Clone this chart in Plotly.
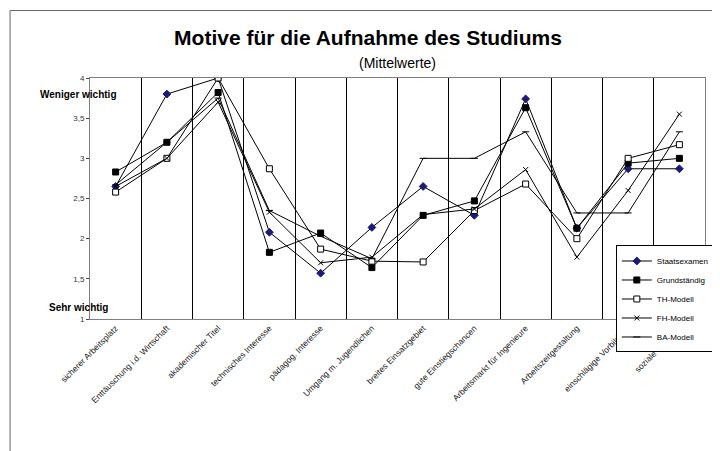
import plotly.graph_objects as go

categories = ["sicherer Arbeitsplatz", "Enttäuschung i.d. Wirtschaft", "akademischer Titel",
              "technisches Interesse", "pädagog. Interesse", "Umgang m. Jugendlichen",
              "breites Einsatzgebiet", "gute Einstiegschancen", "Arbeitsmarkt für Ingenieure",
              "Arbeitszeitgestaltung", "einschlägige Vorbildung", "soziale Vorbilder"]
staatsexamen = [2.65, 3.80, 4.00, 2.08, 1.57, 2.14, 2.65, 2.29, 3.74, 2.13, 2.87, 2.87]
grundstaendig = [2.83, 3.20, 3.82, 1.83, 2.07, 1.64, 2.29, 2.47, 3.63, 2.13, 2.94, 3.00]
th_modell = [2.58, 3.00, 4.00, 2.87, 1.87, 1.72, 1.71, 2.35, 2.68, 2.00, 3.00, 3.17]
fh_modell = [2.65, 3.00, 3.70, 2.33, 1.70, 1.77, 2.30, 2.37, 2.86, 1.77, 2.60, 3.55]
ba_modell = [2.67, 3.20, 3.75, 2.35, 2.03, 1.75, 3.00, 3.00, 3.33, 2.32, 2.32, 3.33]

x = list(range(len(categories)))
series = [
    ("Staatsexamen", staatsexamen, "#1a1a7a", "diamond", "#1a1a7a", 6),
    ("Grundständig", grundstaendig, "black", "square", "black", 6),
    ("TH-Modell", th_modell, "black", "square", "white", 6),
    ("FH-Modell", fh_modell, "black", "x-thin-open", "black", 5),
    ("BA-Modell", ba_modell, "black", "line-ew-open", "black", 5),
]
fig = go.Figure()
for name, ys, col, sym, fill, sz in series:
    fig.add_trace(go.Scatter(x=x, y=ys, name=name, mode="lines+markers",
                             line=dict(color="black", width=1),
                             marker=dict(symbol=sym, size=sz, color=fill,
                                         line=dict(color=col, width=1))))

fig.update_layout(
    width=720, height=451, paper_bgcolor="white", plot_bgcolor="white",
    margin=dict(l=82, r=23, t=70, b=140),
    font=dict(family="Liberation Sans, Arial", size=8, color="black"),
    separators=",.",
    title=dict(text="<b>Motive für die Aufnahme des Studiums</b>",
               x=0.5, xref="container", xanchor="center", y=0.935, yref="container",
               yanchor="middle", font=dict(size=21)),
    showlegend=True,
    legend=dict(x=0.855, y=0.305, xanchor="left", yanchor="top", bordercolor="black",
                borderwidth=1, bgcolor="white", font=dict(size=8), tracegroupgap=0,
                itemwidth=30),
    xaxis=dict(range=[-0.5, 11.5], tickvals=x, ticktext=categories, tickangle=-45,
               showgrid=False, showline=True, linecolor="gray", mirror=True,
               ticks="", zeroline=False, tickfont=dict(size=8.5, color="#222"),
               minor=dict(tickvals=[i + 0.5 for i in x[:-1]], showgrid=True,
                          gridcolor="black", gridwidth=1)),
    yaxis=dict(range=[1, 4], tickvals=[1, 1.5, 2, 2.5, 3, 3.5, 4], showgrid=False,
               showline=True, linecolor="gray", mirror=True, ticks="outside",
               ticklen=3, zeroline=False, tickfont=dict(size=8, color="#333")),
    annotations=[
        dict(text="(Mittelwerte)", x=0.5, xref="paper", y=(311 - 55) / 241 * 1.0, yref="paper",
             showarrow=False, font=dict(size=14), yanchor="middle"),
        dict(text="<b>Weniger wichtig</b>", x=-0.085, xref="paper", y=3.8, yref="y",
             xanchor="left", showarrow=False, font=dict(size=10)),
        dict(text="<b>Sehr wichtig</b>", x=-0.07, xref="paper", y=1.14, yref="y",
             xanchor="left", showarrow=False, font=dict(size=10)),
    ],
    shapes=[dict(type="rect", xref="paper", yref="paper", x0=-0.13, x1=1.029,
                 y0=-0.565, y1=1.28, line=dict(color="#666", width=1))],
)
fig.write_html("out.html")
